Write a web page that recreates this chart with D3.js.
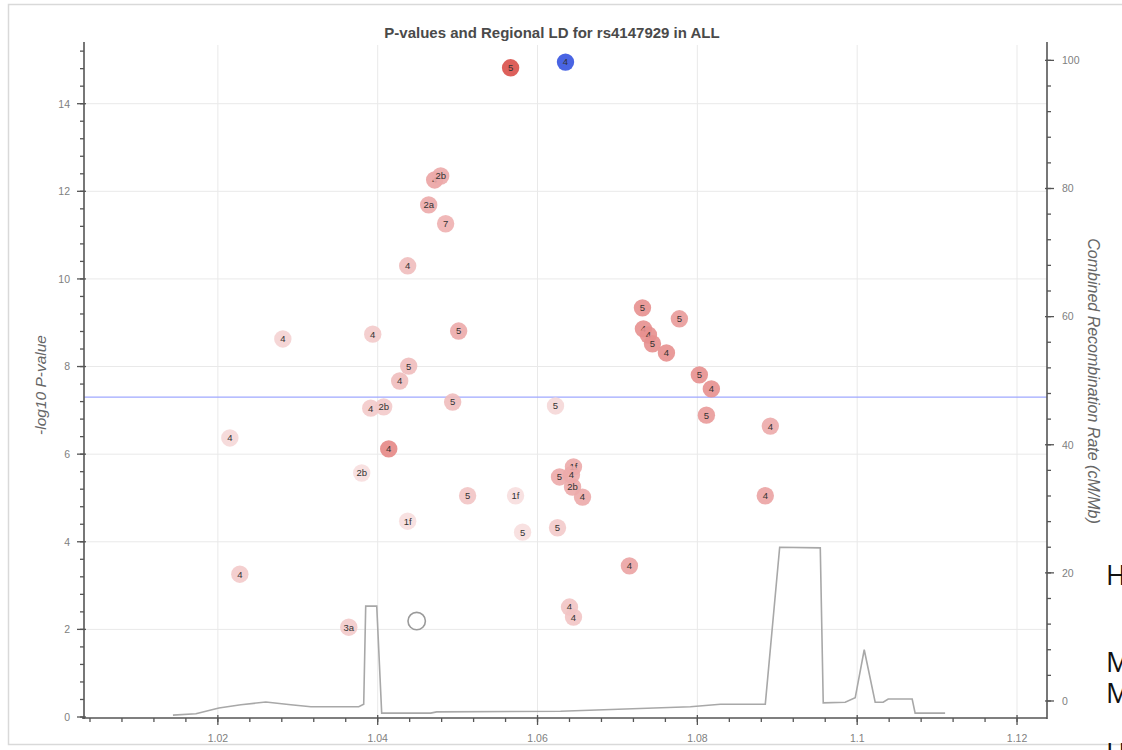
<!DOCTYPE html>
<html><head><meta charset="utf-8">
<script src="https://cdn.jsdelivr.net/npm/d3@7"></script>
<style>body{margin:0;background:#fff;} svg{display:block;}</style>
</head><body>
<script>
// ---------- data ----------
const snpPos = [1.05663,1.0635,1.04713,1.04788,1.04638,1.0485,1.04375,1.02813,1.03938,1.05013,1.04388,1.04275,1.03913,1.04075,1.04938,1.0215,1.04138,1.038,1.04375,1.05125,1.05725,1.05813,1.0625,1.06225,1.06275,1.0645,1.06425,1.06438,1.06563,1.0715,1.064,1.0645,1.02275,1.03638,1.04488,1.07313,1.07775,1.07325,1.07388,1.07438,1.07613,1.08025,1.08175,1.08113,1.08913,1.0885];
const snpLogP = [14.82,14.95,12.26,12.35,11.69,11.26,10.30,8.63,8.74,8.81,8.01,7.67,7.05,7.08,7.19,6.37,6.12,5.57,4.47,5.05,5.05,4.22,4.32,7.10,5.48,5.71,5.53,5.25,5.02,3.45,2.51,2.28,3.26,2.05,2.19,9.34,9.09,8.86,8.72,8.52,8.31,7.81,7.49,6.89,6.64,5.05];
const snpLabel = ["5","4","4","2b","2a","7","4","4","4","5","5","4","4","2b","5","4","4","2b","1f","5","1f","5","5","5","5","1f","4","2b","4","4","4","4","4","3a","","5","5","4","4","5","4","5","4","5","4","4"];
const snpR2 = [0.95,null,0.5,0.45,0.45,0.4,0.3,0.15,0.2,0.45,0.3,0.3,0.2,0.2,0.3,0.1,0.65,0.05,0.05,0.25,0.05,0.05,0.2,0.1,0.45,0.45,0.45,0.45,0.45,0.5,0.25,0.25,0.2,0.2,-1,0.6,0.55,0.6,0.6,0.6,0.6,0.6,0.6,0.55,0.45,0.5];
const indexSnp = 1; // position in arrays of rs4147929

const recPos = [1.01438,1.01725,1.02013,1.02288,1.026,1.02913,1.03163,1.03763,1.03825,1.0385,1.03988,1.0405,1.04663,1.04738,1.06288,1.07913,1.08288,1.0885,1.0903,1.09538,1.09575,1.0985,1.09975,1.10088,1.10225,1.10325,1.10388,1.10688,1.10725,1.111];
const recRate = [-2.2,-2.0,-1.1,-0.6,-0.15,-0.6,-0.9,-0.9,-0.5,14.8,14.8,-1.9,-1.9,-1.7,-1.6,-0.9,-0.5,-0.5,24.0,23.9,-0.3,-0.2,0.5,8.0,-0.2,-0.2,0.3,0.3,-1.9,-1.9];

const xTicks = [1.02,1.04,1.06,1.08,1.1,1.12];
const xTickLabels = ["1.02","1.04","1.06","1.08","1.1","1.12"];
const yTicks = [0,2,4,6,8,10,12,14];
const y2Ticks = [0,20,40,60,80,100];
const sigLine = 7.3;

const title = "P-values and Regional LD for rs4147929 in ALL";
const yTitle = "-log10 P-value";
const y2Title = "Combined Recombination Rate (cM/Mb)";
const sideLetters = ["H","M","M","H"];

// ---------- layout ----------
const W = 1122, H = 750;
const L = 84, R = 1047, T = 45, B = 717;
const svg = d3.select("body").append("svg").attr("width",W).attr("height",H);
const font = "'Liberation Sans', Arial, Helvetica, sans-serif";

svg.append("rect").attr("x",8.5).attr("y",4.5).attr("width",1130).attr("height",740)
  .attr("fill","none").attr("stroke","#d9d9d9").attr("stroke-width",1.5);

const x = d3.scaleLinear().domain([1.00325,1.12375]).range([L,R]);
const y = d3.scaleLinear().domain([0,15.34]).range([B,T]);
const y2 = d3.scaleLinear().domain([-2.5,102.4]).range([B,T]);

// grid
const g = svg.append("g");
g.selectAll(".vg").data(xTicks).join("line")
  .attr("x1",d=>x(d)).attr("x2",d=>x(d)).attr("y1",T).attr("y2",B)
  .attr("stroke","#e9e9e9").attr("stroke-width",1);
g.selectAll(".hg").data(yTicks.filter(d=>d>0)).join("line")
  .attr("x1",L).attr("x2",R).attr("y1",d=>y(d)).attr("y2",d=>y(d))
  .attr("stroke","#e9e9e9").attr("stroke-width",1);

// significance line
svg.append("line").attr("x1",L).attr("x2",R).attr("y1",y(sigLine)).attr("y2",y(sigLine))
  .attr("stroke","#9fa8ff").attr("stroke-width",1.2);

// recombination line
const line = d3.line().x((d,i)=>x(recPos[i])).y((d,i)=>y2(recRate[i]));
svg.append("path").datum(recRate).attr("d",line).attr("fill","none")
  .attr("stroke","#a8a8a8").attr("stroke-width",1.6);

// points
const color = d3.scaleLinear().domain([0,0.5,1]).range(["#f8e4e4","#eba3a3","#d7463f"]);
const pts = snpPos.map((p,i)=>({p, lp:snpLogP[i], lab:snpLabel[i], r2:snpR2[i], i}));
const pg = svg.append("g");
pts.forEach(d=>{
  const cx = x(d.p), cy = y(d.lp);
  let fill, stroke="none";
  if (d.i===indexSnp) fill = "#3553e0";
  else if (d.r2 < 0) { fill = "#fff"; stroke = "#9a9a9a"; }
  else fill = color(d.r2);
  pg.append("circle").attr("cx",cx).attr("cy",cy).attr("r",8.7)
    .attr("fill",fill).attr("fill-opacity", d.r2<0?1:0.9)
    .attr("stroke",stroke).attr("stroke-width",1.6);
  if (d.lab) pg.append("text").attr("x",cx).attr("y",cy+3.4).attr("text-anchor","middle")
    .attr("font-family",font).attr("font-size",9.5).attr("fill","#333").text(d.lab);
});

// axes
const axisColor = "#555";
function vAxis(xpos, scale, majors, minorStep, dir, lo, hi){
  const ax = svg.append("g");
  ax.append("line").attr("x1",xpos).attr("x2",xpos).attr("y1",T-3).attr("y2",B+2)
    .attr("stroke",axisColor).attr("stroke-width",1.6);
  const minors = d3.range(lo, hi+1e-9, minorStep);
  ax.selectAll(".mn").data(minors).join("line")
    .attr("x1",xpos).attr("x2",xpos+dir*4).attr("y1",d=>scale(d)).attr("y2",d=>scale(d))
    .attr("stroke",axisColor).attr("stroke-width",1.3);
  ax.selectAll(".mj").data(majors).join("line")
    .attr("x1",xpos-dir*2).attr("x2",xpos+dir*7).attr("y1",d=>scale(d)).attr("y2",d=>scale(d))
    .attr("stroke",axisColor).attr("stroke-width",1.3);
  ax.selectAll(".lb").data(majors).join("text")
    .attr("x",xpos+dir*(dir<0?14:15)).attr("y",d=>scale(d)+3.8)
    .attr("text-anchor",dir<0?"end":"start")
    .attr("font-family",font).attr("font-size",10.5).attr("fill","#808080")
    .text(d=>d);
}
vAxis(L, y, yTicks, 0.4, -1, 0, 15.3);
vAxis(R, y2, y2Ticks, 4, 1, 0, 102);

// x axis
const xa = svg.append("g");
xa.append("line").attr("x1",L-2).attr("x2",R).attr("y1",B+1).attr("y2",B+1)
  .attr("stroke",axisColor).attr("stroke-width",1.6);
const xMinors = d3.range(1.004, 1.1236, 0.004);
xa.selectAll(".mn").data(xMinors).join("line")
  .attr("x1",d=>x(d)).attr("x2",d=>x(d)).attr("y1",B+1).attr("y2",B+5)
  .attr("stroke",axisColor).attr("stroke-width",1.3);
xa.selectAll(".mj").data(xTicks).join("line")
  .attr("x1",d=>x(d)).attr("x2",d=>x(d)).attr("y1",B-2).attr("y2",B+8)
  .attr("stroke",axisColor).attr("stroke-width",1.3);
xa.selectAll(".lb").data(xTicks).join("text")
  .attr("x",d=>x(d)).attr("y",B+25).attr("text-anchor","middle")
  .attr("font-family",font).attr("font-size",10.5).attr("fill","#808080")
  .text((d,i)=>xTickLabels[i]);

// titles
svg.append("text").attr("x",552).attr("y",38).attr("text-anchor","middle")
  .attr("font-family",font).attr("font-weight","bold").attr("font-size",15).attr("fill","#4a4a4a")
  .text(title);
svg.append("text").attr("transform",`translate(46,385) rotate(-90)`).attr("text-anchor","middle")
  .attr("font-family",font).attr("font-style","italic").attr("font-size",15.5).attr("fill","#666")
  .text(yTitle);
svg.append("text").attr("transform",`translate(1088,381) rotate(90)`).attr("text-anchor","middle")
  .attr("font-family",font).attr("font-style","italic").attr("font-size",16).attr("fill","#666")
  .text(y2Title);

// side letters (outside chart)
const sideY = [585, 672, 703, 763];
svg.selectAll(".side").data(sideLetters).join("text")
  .attr("x",1106).attr("y",(d,i)=>sideY[i])
  .attr("font-family","'Open Sans','Liberation Sans',sans-serif").attr("font-size",27).attr("fill","#111")
  .text(d=>d);
</script>
</body></html>
